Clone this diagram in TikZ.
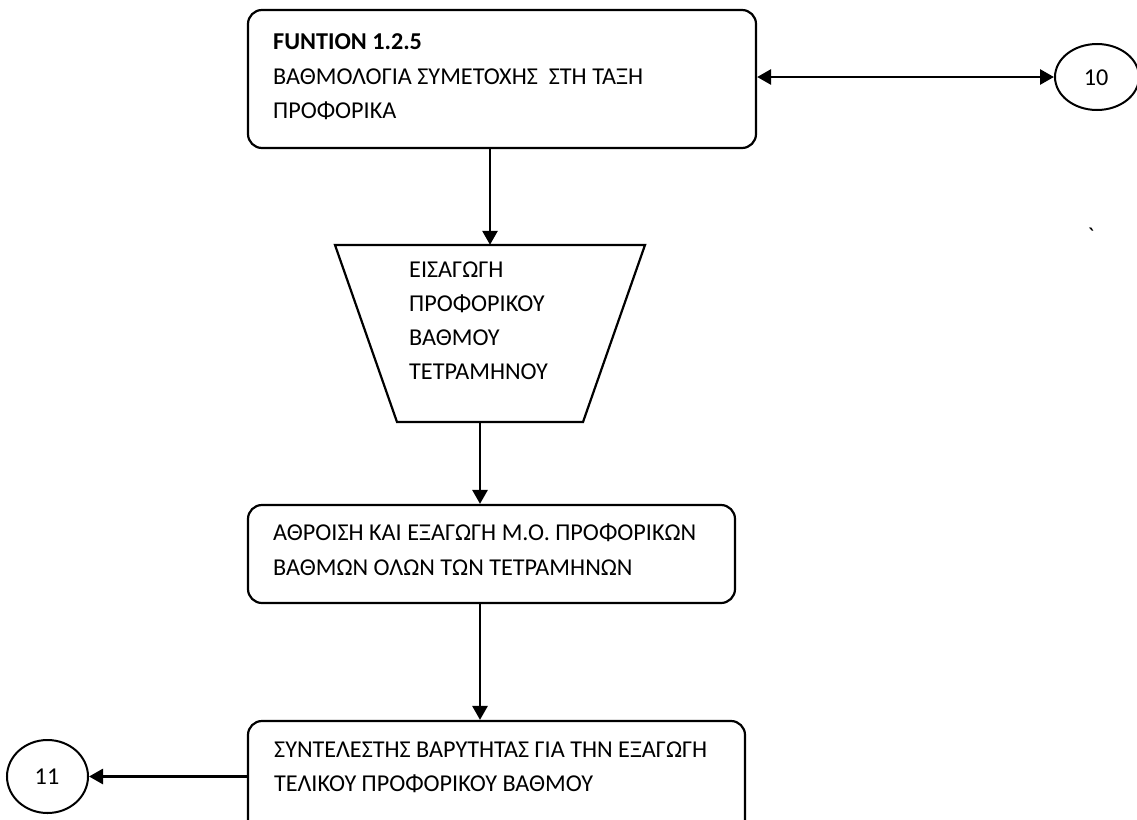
\documentclass[tikz,border=0pt]{standalone}
\usepackage{fontspec}
\setmainfont{Carlito}
\usetikzlibrary{arrows.meta,shapes.geometric}
\begin{document}
\begin{tikzpicture}[x=1pt,y=-1pt,
  every node/.style={font=\fontsize{24.2}{34}\selectfont},
  box/.style={draw,line width=2.2pt,rounded corners=14pt,inner sep=0pt},
  conn/.style={draw,ellipse,line width=2pt,inner sep=0pt},
  txt/.style={anchor=base west,inner sep=0pt},
  flow/.style={line width=2.8pt,-{Triangle[length=14pt,width=15pt]}},
  hidden/.style={inner sep=0pt}]
\clip (0,0) rectangle (1137,819);
\fill[white] (0,0) rectangle (1137,819);

% process boxes
\node[box,minimum width=508pt,minimum height=138pt] (box1) at (502,79) {};
\node[box,minimum width=487pt,minimum height=98pt] (box2) at (491.5,554) {};
\node[box,minimum width=497pt,minimum height=120pt] (box3) at (496.5,781) {};

% manual input (trapezium)
\draw[line width=2.2pt] (335,245) -- (645,245) -- (583,422) -- (397,422) -- cycle;
\node[hidden,minimum width=310pt,minimum height=177pt] (trap) at (490,333.5) {};

% off-page connectors
\node[conn,minimum width=84pt,minimum height=66pt] (ten) at (1097,77) {};
\node[conn,minimum width=81pt,minimum height=73pt] (eleven) at (47.5,776.5) {};
\node[hidden] (tenlbl) at (1096,78) {10};
\node[hidden] (elevenlbl) at (47,777) {11};

% texts
\node[txt] (t1a) at (273,49) {\textbf{FUNTION 1.2.5}};
\node[txt] (t1b) at (273,84) {ΒΑΘΜΟΛΟΓΙΑ ΣΥΜΕΤΟΧΗΣ\ \ ΣΤΗ ΤΑΞΗ};
\node[txt] (t1c) at (273,118) {ΠΡΟΦΟΡΙΚΑ};

\node[txt] (t2a) at (409,277) {ΕΙΣΑΓΩΓΗ};
\node[txt] (t2b) at (409,311) {ΠΡΟΦΟΡΙΚΟΥ};
\node[txt] (t2c) at (409,345) {ΒΑΘΜΟΥ};
\node[txt] (t2d) at (409,379) {ΤΕΤΡΑΜΗΝΟΥ};

\node[txt] (t3a) at (273,540) {ΑΘΡΟΙΣΗ ΚΑΙ ΕΞΑΓΩΓΗ Μ.Ο. ΠΡΟΦΟΡΙΚΩΝ};
\node[txt] (t3b) at (273,575) {ΒΑΘΜΩΝ ΟΛΩΝ ΤΩΝ ΤΕΤΡΑΜΗΝΩΝ};

\node[txt] (t4a) at (274,757) {ΣΥΝΤΕΛΕΣΤΗΣ ΒΑΡΥΤΗΤΑΣ ΓΙΑ ΤΗΝ ΕΞΑΓΩΓΗ};
\node[txt] (t4b) at (274,791) {ΤΕΛΙΚΟΥ ΠΡΟΦΟΡΙΚΟΥ ΒΑΘΜΟΥ};

\node[hidden] (tick) at (1091,236) {\textasciigrave};

% connectors
\draw[line width=2.8pt,{Triangle[length=14pt,width=15pt]}-{Triangle[length=14pt,width=15pt]}]
  (ten.west -| box1.east) -- (ten.west);
\draw[flow] (box1.south -| trap.north) -- (trap.north);
\draw[flow] ([xshift=-10pt]trap.south) -- ([xshift=-10pt]trap.south |- box2.north);
\draw[flow] ([xshift=-11.5pt]box2.south) -- ([xshift=-11.5pt]box2.south |- box3.north);
\draw[flow] (box3.west |- eleven.east) -- (eleven.east);
\end{tikzpicture}
\end{document}
